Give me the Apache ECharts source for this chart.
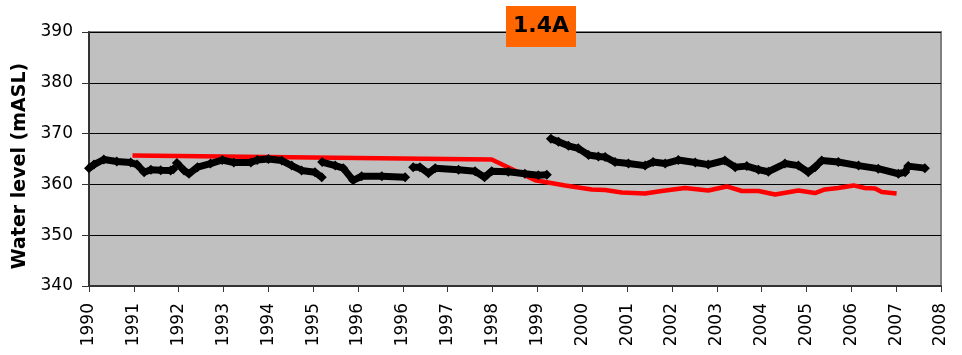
<!DOCTYPE html>
<html>
<head>
<meta charset="utf-8">
<script src="https://cdn.jsdelivr.net/npm/echarts@6/dist/echarts.min.js"></script>
<style>html,body{margin:0;padding:0;background:#fff}#c{width:962px;height:355px}</style>
</head>
<body>
<div id="c"></div>
<script>
// Tick labels of the (Excel date) x axis, one per major tick, positions 0..19
const xTickLabels = ["1990","1991","1992","1993","1994","1995","1996","1996","1997","1998",
                     "1999","2000","2001","2002","2003","2004","2005","2006","2007","2008"];
const yTicks = [340, 350, 360, 370, 380, 390];

// Observed water level (black diamonds), x in tick positions; separate runs (gaps between)
const blackSeg1 = [[0.00,363.2],[0.11,363.9],[0.33,364.9],[0.62,364.5],[0.93,364.3],[1.07,363.9],
                   [1.23,362.4],[1.38,362.9],[1.60,362.8],[1.82,362.75],[1.88,363.0]];
const blackSeg2 = [[1.96,364.2],[2.12,362.75],[2.23,362.1],[2.42,363.4],[2.71,364.1],[2.97,364.8],
                   [3.23,364.3],[3.61,364.3],[3.75,364.8],[4.00,365.0],[4.30,364.7],[4.52,363.7],
                   [4.74,362.75],[5.04,362.4],[5.19,361.4]];
const blackSeg3 = [[5.20,364.4],[5.49,363.7],[5.67,363.2],[5.89,360.8],[6.08,361.6],[6.53,361.6],
                   [7.05,361.4]];
const blackSeg4 = [[7.23,363.4],[7.38,363.4],[7.57,362.2],[7.72,363.2],[8.24,362.9],[8.61,362.6],
                   [8.82,361.4],[8.98,362.6],[9.35,362.5],[9.72,362.1],[10.02,361.8],[10.21,361.9]];
const blackSeg5 = [[10.30,369.0],[10.47,368.4],[10.69,367.6],[10.91,367.1],[11.14,365.8],[11.36,365.5],
                   [11.51,365.4],[11.73,364.4],[12.03,364.1],[12.40,363.7],[12.58,364.4],[12.85,364.1],
                   [13.14,364.8],[13.52,364.3],[13.81,363.9],[14.18,364.7],[14.41,363.4],[14.67,363.6],
                   [14.93,362.9],[15.15,362.5],[15.52,364.1],[15.82,363.7],[16.04,362.4],[16.19,363.4],
                   [16.34,364.7],[16.71,364.4],[17.16,363.7],[17.60,363.1],[18.05,362.1],[18.20,362.4],
                   [18.27,363.6],[18.64,363.2]];

// Modelled / reference level (red line)
const redLine = [[0.97,365.7],[8.98,364.9],[9.95,360.8],[10.62,359.8],[11.21,359.0],[11.51,358.9],
                 [11.88,358.4],[12.40,358.2],[12.77,358.7],[13.29,359.3],[13.81,358.8],[14.22,359.6],
                 [14.56,358.7],[14.93,358.7],[15.30,358.0],[15.82,358.8],[16.19,358.3],[16.41,359.0],
                 [16.71,359.3],[17.05,359.8],[17.30,359.3],[17.53,359.2],[17.68,358.5],[18.01,358.2]];

const chartTitle = "1.4A";
const yAxisTitle = "Water level (mASL)";

const blackData = [];
[blackSeg1, blackSeg2, blackSeg3, blackSeg4, blackSeg5].forEach((s, i) => {
  if (i > 0) blackData.push('-');
  s.forEach(p => blackData.push(p));
});

const chart = echarts.init(document.getElementById('c'), null, {renderer: 'canvas'});
chart.setOption({
  animation: false,
  backgroundColor: '#ffffff',
  title: {
    text: chartTitle,
    left: 506, top: 6,
    backgroundColor: '#FF6600',
    padding: [8, 7, 8, 7],
    textStyle: {fontFamily: 'DejaVu Sans', fontWeight: 'bold', fontSize: 22, color: '#000', lineHeight: 25},
    z: 10
  },
  grid: {
    left: 89, right: 21, top: 32, bottom: 69,
    show: true, backgroundColor: '#C0C0C0', borderColor: '#808080', borderWidth: 2
  },
  xAxis: {
    type: 'value', min: 0, max: xTickLabels.length - 1, interval: 1,
    splitLine: {show: false},
    axisLine: {show: true, onZero: false, lineStyle: {color: '#333', width: 2}},
    axisTick: {show: true, length: 6, lineStyle: {color: '#333', width: 1}},
    axisLabel: {
      rotate: 90, margin: 17, fontFamily: 'DejaVu Sans', fontSize: 17, color: '#000',
      formatter: v => xTickLabels[Math.round(v)]
    }
  },
  yAxis: {
    type: 'value', min: yTicks[0], max: yTicks[yTicks.length - 1], interval: 10,
    name: yAxisTitle, nameLocation: 'middle', nameGap: 52,
    nameTextStyle: {fontFamily: 'DejaVu Sans', fontWeight: 'bold', fontSize: 19, color: '#000',
                    padding: [0, 14, 0, 0]},
    splitLine: {show: true, lineStyle: {color: '#000', width: 1}},
    axisLine: {show: true, lineStyle: {color: '#333', width: 2}},
    axisTick: {show: true, length: 7, lineStyle: {color: '#333', width: 1}},
    axisLabel: {margin: 16, fontFamily: 'DejaVu Sans', fontSize: 17, color: '#000'}
  },
  series: [
    {
      type: 'line', data: redLine, symbol: 'none',
      lineStyle: {color: '#FF0000', width: 4.5}, z: 3
    },
    {
      type: 'line', data: blackData, connectNulls: false,
      symbol: 'diamond', symbolSize: 10,
      itemStyle: {color: '#000'},
      lineStyle: {color: '#000', width: 7}, z: 4
    }
  ]
});
</script>
</body>
</html>
